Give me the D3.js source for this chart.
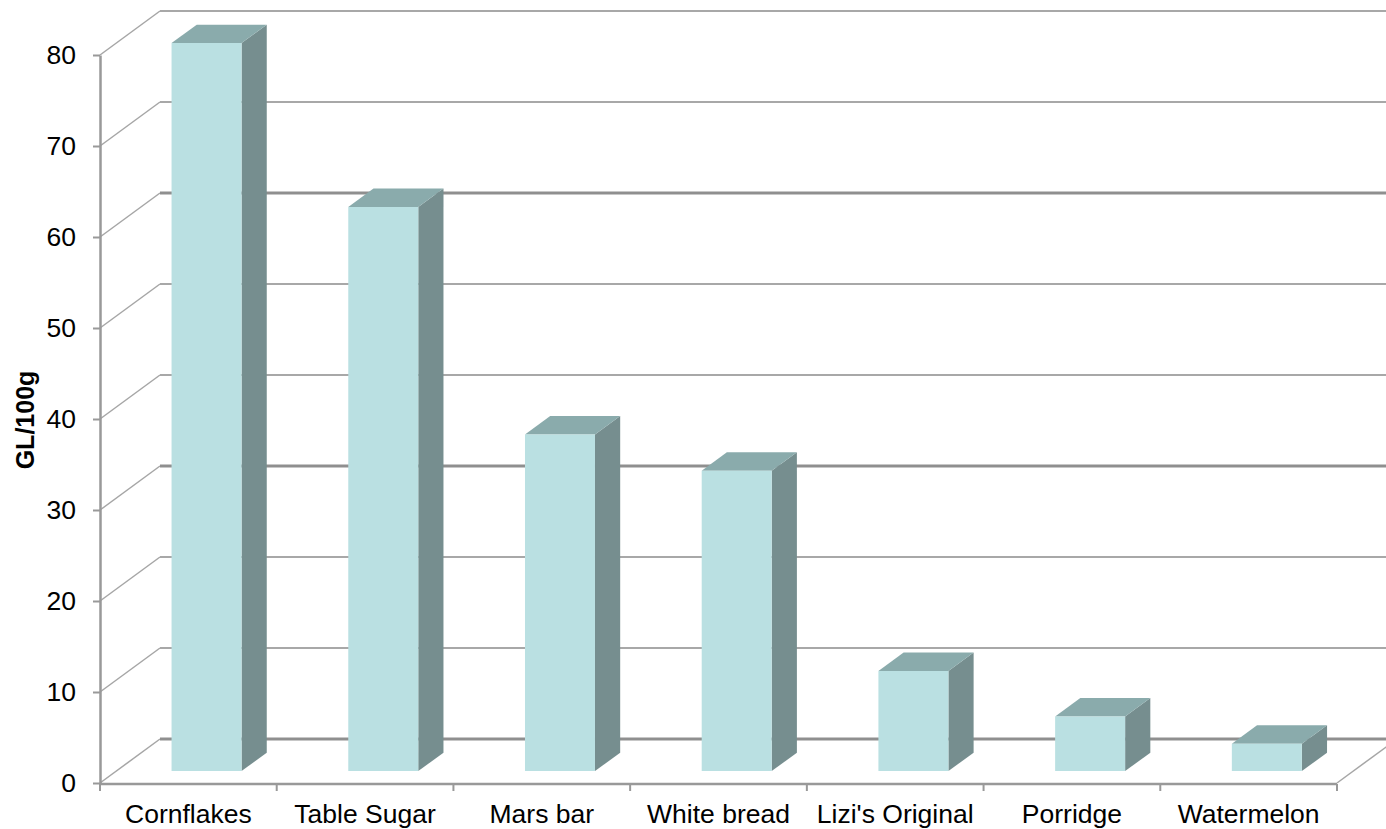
<!DOCTYPE html>
<html>
  <head>
    <meta charset="utf-8">
    <script src="https://d3js.org/d3.v7.min.js"></script>
    <style>
      body { margin: 0; background: #fff; }
      text { font-family: "Liberation Sans", Arial, sans-serif; fill: #000; }
    </style>
  </head>
  <body>
    <div id="my_chart"></div>
    <script>
      // data
      var categories = ["Cornflakes", "Table Sugar", "Mars bar", "White bread", "Lizi's Original", "Porridge", "Watermelon"];
      var glValues = [80, 62, 37, 33, 11, 6, 3];
      var yTicks = [0, 10, 20, 30, 40, 50, 60, 70, 80];
      var yLabel = "GL/100g";

      var width = 1386, height = 829;
      // 3d look: how far the back wall sits from the front plane
      var depthX = 60, depthY = 44;
      var barFrontZ = 0.27, barBackZ = 0.69;

      var svg = d3.select("#my_chart")
        .append("svg")
          .attr("width", width)
          .attr("height", height);

      var x = d3.scaleBand()
        .domain(categories)
        .range([100, 1337]);

      var y = d3.scaleLinear()
        .domain([0, 80])
        .range([783, 55]);

      // project a point (front x, value, depth 0..1) to the screen
      function proj(px, v, z) {
        return [px + z * depthX, y(v) - z * depthY];
      }

      var grid = svg.append("g");

      // back wall lines and the short diagonals on the left wall
      yTicks.forEach(function(t) {
        var a = proj(100, t, 0), b = proj(100, t, 1);
        // every third line comes out heavier in the original
        var heavy = t % 30 === 0;
        grid.append("line")
          .attr("x1", a[0]).attr("y1", a[1])
          .attr("x2", b[0]).attr("y2", b[1])
          .attr("stroke", "#a6a6a6")
          .attr("stroke-width", 1.5);
        grid.append("line")
          .attr("x1", b[0]).attr("y1", b[1])
          .attr("x2", width + 20).attr("y2", b[1])
          .attr("stroke", heavy ? "#8f8f8f" : "#a8a8a8")
          .attr("stroke-width", heavy ? 3 : 2);
      });

      // right edge of the floor
      var f0 = proj(1337, 0, 0), f1 = proj(1337, 0, 1);
      grid.append("line")
        .attr("x1", f0[0]).attr("y1", f0[1])
        .attr("x2", f1[0]).attr("y2", f1[1])
        .attr("stroke", "#a6a6a6")
        .attr("stroke-width", 1.5);

      // bars
      var barW = 70;
      var bars = svg.append("g")
        .selectAll("g")
        .data(glValues)
        .enter().append("g");

      function barLeft(i) {
        return x(categories[i]) + (x.bandwidth() - barW) / 2 + 2;
      }

      // side face
      bars.append("path")
        .attr("fill", "#768e8f")
        .attr("d", function(d, i) {
          var l = barLeft(i) + barW;
          var p = [proj(l, 0, barFrontZ), proj(l, 0, barBackZ), proj(l, d, barBackZ), proj(l, d, barFrontZ)];
          return "M" + p.join("L") + "Z";
        });

      // top face
      bars.append("path")
        .attr("fill", "#8aabac")
        .attr("d", function(d, i) {
          var l = barLeft(i);
          var p = [proj(l, d, barFrontZ), proj(l, d, barBackZ), proj(l + barW, d, barBackZ), proj(l + barW, d, barFrontZ)];
          return "M" + p.join("L") + "Z";
        });

      // front face
      bars.append("path")
        .attr("fill", "#bae0e2")
        .attr("d", function(d, i) {
          var l = barLeft(i);
          var p = [proj(l, 0, barFrontZ), proj(l, d, barFrontZ), proj(l + barW, d, barFrontZ), proj(l + barW, 0, barFrontZ)];
          return "M" + p.join("L") + "Z";
        });

      // y axis
      var yAxis = svg.append("g")
        .attr("transform", "translate(100,0)")
        .call(d3.axisLeft(y).tickValues(yTicks).tickSize(7).tickSizeOuter(0).tickPadding(17));
      yAxis.select(".domain").attr("stroke", "#999").attr("stroke-width", 2.5);
      yAxis.selectAll(".tick line").attr("stroke", "#999").attr("stroke-width", 2);
      yAxis.selectAll(".tick text")
        .attr("font-size", "26.5px")
        .attr("font-family", "Liberation Sans, Arial, sans-serif")
        .attr("fill", "#000");

      // x axis (floor front edge with ticks between categories)
      var xg = svg.append("g");
      xg.append("line")
        .attr("x1", 100).attr("y1", y(0) + 1)
        .attr("x2", 1337).attr("y2", y(0) + 1)
        .attr("stroke", "#999")
        .attr("stroke-width", 2.5);
      var bounds = categories.map(function(c) { return x(c); }).concat([x.range()[1]]);
      xg.selectAll(".xtick")
        .data(bounds)
        .enter().append("line")
          .attr("class", "xtick")
          .attr("x1", function(d) { return d; })
          .attr("x2", function(d) { return d; })
          .attr("y1", y(0) + 1)
          .attr("y2", y(0) + 8)
          .attr("stroke", "#999")
          .attr("stroke-width", 2);
      xg.selectAll(".xlabel")
        .data(categories)
        .enter().append("text")
          .attr("class", "xlabel")
          .attr("x", function(d) { return x(d) + x.bandwidth() / 2; })
          .attr("y", 823)
          .attr("text-anchor", "middle")
          .attr("font-size", "26.5px")
          .text(function(d) { return d; });

      // y axis title
      svg.append("text")
        .attr("transform", "translate(34,420) rotate(-90)")
        .attr("text-anchor", "middle")
        .attr("font-size", "25px")
        .attr("font-weight", "bold")
        .text(yLabel);
    </script>
  </body>
</html>
